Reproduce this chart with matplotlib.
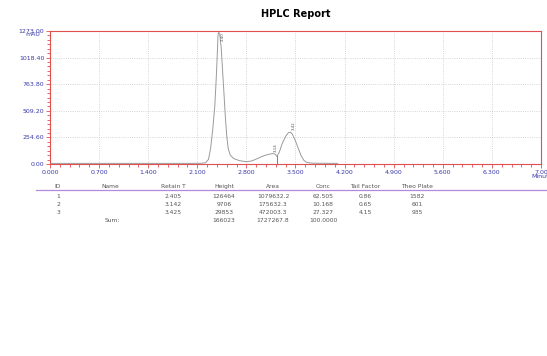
import matplotlib.pyplot as plt
import numpy as np

# chromatogram trace (minutes, mAU)
time = [0.0, 1.0, 2.0, 2.15, 2.22, 2.26, 2.29, 2.32, 2.35, 2.37, 2.385, 2.395, 2.405,
        2.42, 2.44, 2.46, 2.48, 2.50, 2.52, 2.54, 2.57, 2.62, 2.70, 2.80, 2.88,
        2.95, 3.02, 3.10, 3.17, 3.21, 3.235, 3.27, 3.31, 3.36, 3.40, 3.43, 3.46,
        3.50, 3.54, 3.58, 3.62, 3.66, 3.72, 3.80, 4.10]
signal = [6, 6, 6, 7, 12, 45, 150, 330, 560, 820, 1050, 1230, 1262,
          1245, 1120, 900, 680, 450, 270, 150, 85, 52, 32, 22, 30,
          50, 72, 90, 100, 95, 72, 115, 195, 265, 300, 305, 280,
          220, 150, 80, 35, 16, 9, 7, 6]

peak_rt = [2.405, 3.142, 3.425]
peak_label_pos = [(2.43, 1180), (3.19, 115), (3.45, 330)]
drop_line_t = 3.235
drop_line_y = 72

yticks = [0.00, 254.60, 509.20, 763.80, 1018.40, 1273.00]
xticks = [0.0, 0.7, 1.4, 2.1, 2.8, 3.5, 4.2, 4.9, 5.6, 6.3, 7.0]
xtick_labels = ["0.000", "0.700", "1.400", "2.100", "2.800", "3.500",
                "4.200", "4.900", "5.600", "6.300", "7.00"]

headers = ["ID", "Name", "Retain T", "Height", "Area", "Conc", "Tail Factor", "Theo Plate"]
ids = ["1", "2", "3"]
retain = ["2.405", "3.142", "3.425"]
heights = ["126464", "9706", "29853"]
areas = ["1079632.2", "175632.3", "472003.3"]
concs = ["62.505", "10.168", "27.327"]
tails = ["0.86", "0.65", "4.15"]
plates = ["1582", "601", "935"]
sums = ["166023", "1727267.8", "100.0000"]

red = "#e05050"
blue = "#3a3aa8"
grey = "#555555"
W, H = 547, 356

fig = plt.figure(figsize=(5.47, 3.56), dpi=100)
ax = fig.add_axes([0.0914, 0.5393, 0.8976, 0.3736])

ax.plot(time, signal, color="#9a9a9a", lw=0.7)
ax.plot([drop_line_t, drop_line_t], [0, drop_line_y], color=red, lw=0.7)
for rt, (px, py) in zip(peak_rt, peak_label_pos):
    ax.text(px, py, f"{rt:.2f}", rotation=90, fontsize=2.8, color=grey,
            ha="left", va="bottom")

ax.set_xlim(0, 7)
ax.set_ylim(0, 1273)
ax.set_xticks(xticks)
ax.set_xticklabels(xtick_labels)
ax.set_yticks(yticks)
ax.set_yticklabels([f"{v:.2f}" for v in yticks])
ax.set_xticks(np.arange(0, 7.001, 0.14), minor=True)
ax.set_yticks(np.arange(0, 1273.01, 254.6 / 6), minor=True)
ax.tick_params(which="both", colors=red, labelcolor=blue, labelsize=4.5,
               direction="out", width=0.6, pad=1)
ax.tick_params(which="major", length=3)
ax.tick_params(which="minor", length=2)
ax.grid(True, which="major", color="#c8c8c8", linestyle=":", lw=0.6)
for s in ax.spines.values():
    s.set_color(red)
    s.set_linewidth(0.8)

fig.text(33 / W, 1 - 35 / H, "mAU", fontsize=4.5, color=blue, ha="center", va="center")
fig.text(540 / W, 1 - 176 / H, "Minut", fontsize=4.5, color=blue, ha="center", va="center")

fig.text(296 / W, 1 - 14 / H, "HPLC Report", fontsize=7, fontweight="bold",
         ha="center", va="center")

# results table
col_x = [58, 110, 173, 224, 273, 323, 365, 417]
fs = 4.3
for x, h in zip(col_x, headers):
    fig.text(x / W, 1 - 186 / H, h, fontsize=fs, color=grey, ha="center", va="center")
fig.add_artist(plt.Line2D([36 / W, 1.0], [1 - 190 / H, 1 - 190 / H],
                          color="#b48ad8", lw=0.9, transform=fig.transFigure))
rows_y = [197, 205, 213]
for i, y in enumerate(rows_y):
    vals = [ids[i], "", retain[i], heights[i], areas[i], concs[i], tails[i], plates[i]]
    for x, v in zip(col_x, vals):
        fig.text(x / W, 1 - y / H, v, fontsize=fs, color=grey, ha="center", va="center")
fig.text(112 / W, 1 - 221 / H, "Sum:", fontsize=fs, color=grey, ha="center", va="center")
for x, v in zip(col_x[3:6], sums):
    fig.text(x / W, 1 - 221 / H, v, fontsize=fs, color=grey, ha="center", va="center")

fig.savefig("out.png", dpi=100)
